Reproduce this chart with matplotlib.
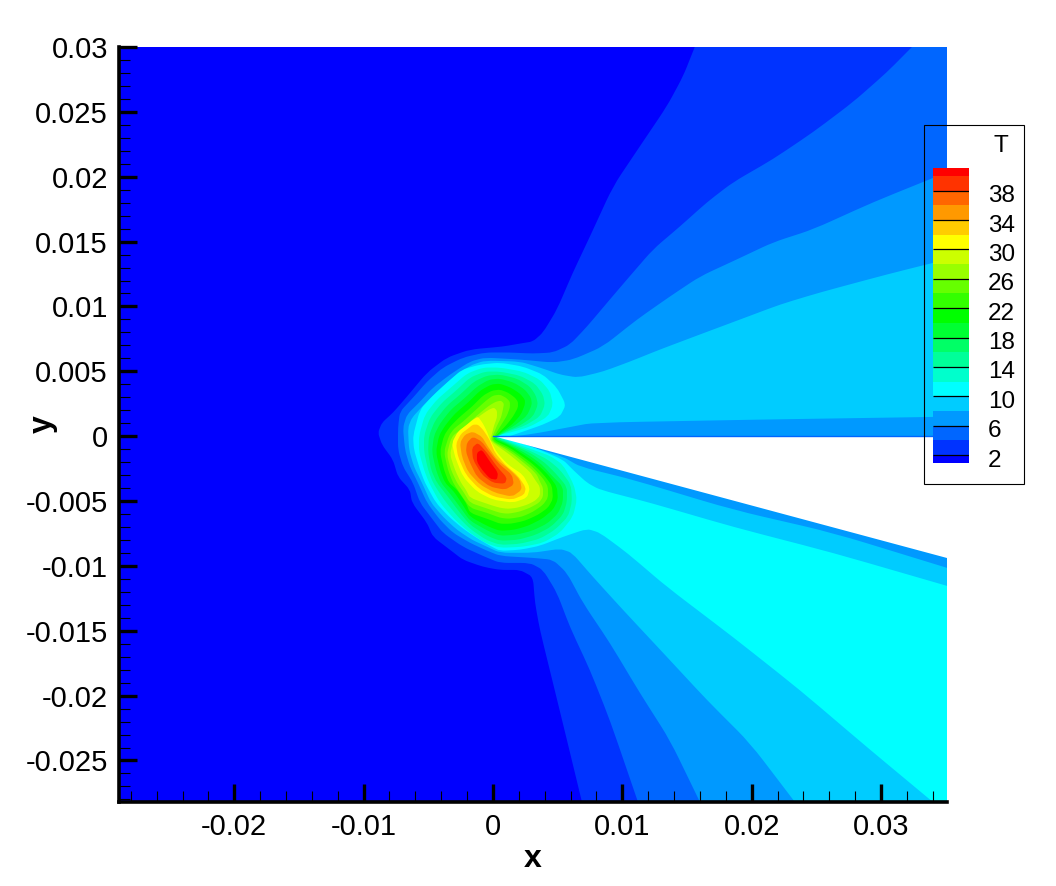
import matplotlib
matplotlib.use("Agg")
import numpy as np
import matplotlib.pyplot as plt
from matplotlib.patches import PathPatch, Rectangle
from matplotlib.path import Path

plt.rcParams["font.family"] = ["Liberation Sans", "DejaVu Sans"]
plt.rcParams["axes.unicode_minus"] = False

# contour outlines, in units of 0.001
t2_x = [15.6, 14.7, 13.45, 11.36, 9.28, 7.5, 6.18, 4.95, 3.87, 3.09, 2.09, .77, -1.78, -3.56, -5.1, -6.65, -7.73, -8.58, -8.89, -8.58, -7.73, -7.34, -6.42, -6.26, -5.1, -4.64, -3.32, -2.32, -.77, .54, 2.09, 3.09, 3.25, 3.63, 4.64, 5.72, 6.88, 35.1, 35.1]
t2_y = [30, 27.75, 25.44, 22.35, 19.26, 15.4, 12.62, 9.77, 7.99, 7.3, 7.14, 6.91, 6.68, 6.06, 4.9, 3.05, 1.81, 1.04, .27, -.66, -1.81, -3.13, -4.13, -5.13, -6.68, -7.76, -8.76, -9.53, -10.07, -10.31, -10.31, -10.85, -12.85, -14.94, -19.03, -23.43, -28.2, -28.2, 30]

t4_x = [32.39, 30.46, 27.83, 24.74, 21.64, 18.55, 16.54, 14.46, 12.37, 10.36, 9.04, 7.27, 5.95, 4.64, 3.09, 1.31, -.62, -2.32, -3.87, -5.1, -6.18, -7.19, -7.34, -7.34, -6.96, -6.18, -5.64, -4.64, -3.87, -2.32, -.62, .54, 2.86, 3.87, 4.95, 5.95, 7.5, 9.04, 11.21, 35.1, 35.1]
t4_y = [30, 28.06, 25.75, 23.43, 21.35, 19.57, 18.03, 16.17, 14.4, 12.08, 10.54, 8.45, 7.06, 6.45, 6.37, 6.45, 6.45, 6.06, 5.29, 4.21, 2.97, 1.89, .66, -1.04, -2.35, -3.59, -5.13, -6.45, -7.45, -8.53, -9.3, -9.77, -9.77, -10.31, -12.08, -14.71, -18.03, -21.89, -28.2, -28.2, 30]

t6_x = [35.1, 29.37, 24.74, 21.64, 18.86, 16.0, 13.68, 11.13, 8.5, 6.18, 4.64, 2.09, -.62, -1.78, -3.32, -4.64, -5.64, -6.65, -6.96, -6.8, -6.42, -5.8, -5.1, -4.1, -3.09, -1.78, -.62, .54, 3.09, 4.64, 5.72, 6.96, 9.04, 11.36, 13.68, 16.0, 35.1]
t6_y = [20.34, 18.03, 15.94, 14.94, 13.63, 12.31, 10.77, 8.99, 6.91, 5.91, 5.67, 5.91, 6.06, 5.75, 4.75, 3.74, 2.66, 1.66, .66, -1.04, -2.35, -3.59, -5.13, -6.45, -7.45, -8.22, -8.76, -9.23, -9.38, -9.53, -10.54, -12.85, -15.94, -19.8, -23.43, -28.2, -28.2]

t8_x = [35.1, 30.46, 25.28, 22.19, 19.09, 16, 12.91, 10.59, 8.5, 6.57, 5.18, 3.63, 2.09, -.62, -1.78, -3.17, -4.33, -5.33, -6.26, -6.57, -6.49, -6.11, -5.49, -4.79, -3.79, -2.78, -1.62, -.62, .54, 3.09, 5.18, 6.11, 7.73, 10.05, 13.45, 16.54, 19.87, 23.34, 35.1, 35.1, 26.28, 18.55, 10.82, 6.73, 5.41, 2.86, .54, 2.09, 3.63, 5.72, 7.73, 20.1, 35.1]
t8_y = [13.63, 12.47, 11.08, 10.15, 8.99, 7.84, 6.68, 5.75, 4.98, 4.52, 4.75, 5.29, 5.75, 5.83, 5.44, 4.44, 3.44, 2.43, 1.43, .66, -1.04, -2.35, -3.59, -5.13, -6.29, -7.22, -7.99, -8.45, -8.99, -8.99, -8.68, -8.99, -10.85, -13.39, -17.02, -20.34, -23.66, -28.2, -28.2, -10.15, -7.45, -5.67, -3.36, -2.35, -1.58, -.81, -.12, .04, .27, .66, 1.04, 1.27, 1.5]

t10_x = [35.1, 26.28, 18.55, 12.14, 8.27, 7.27, 6.18, 5.41, 3.25, .93, 2.09, 3.87, 5.18, 5.64, 4.95, 3.87, 2.32, .54, -1, -2.4, -3.56, -4.72, -5.64, -6.18, -6.11, -5.64, -5.26, -4.41, -3.4, -2.4, -1.39, -.23, .54, 2.09, 3.63, 5.41, 7.27, 8.27, 10.36, 13.45, 18.55, 23.73, 28.91, 34.01, 35.1]
t10_y = [-11.54, -8.99, -6.99, -5.13, -4.13, -3.59, -2.59, -1.81, -.89, -.12, .27, .89, 1.51, 2.43, 3.74, 4.75, 5.37, 5.67, 5.52, 5.13, 4.13, 3.05, 2.05, .04, -1.04, -2.59, -3.59, -5.13, -6.21, -7.06, -7.76, -8.45, -8.84, -8.76, -8.45, -7.76, -7.14, -7.45, -8.99, -11.62, -15.48, -19.57, -23.97, -28.2, -28.2]

t12_x = [.23, 1.31, 2.86, 4.41, 5.41, 6.26, 6.49, 6.18, 5.18, 3.87, 2.32, .54, -.62, -1.78, -2.94, -4.1, -4.95, -5.33, -5.72, -5.72, -5.26, -4.33, -3.17, -2.01, -.77, .54, 2.32, 3.63, 4.41, 4.64, 4.25, 2.86, 1.31]
t12_y = [.04, -.42, -.97, -1.51, -2.2, -3.74, -4.9, -6.21, -7.45, -8.22, -8.53, -8.61, -8.22, -7.45, -6.45, -5.13, -3.59, -2.59, -1.2, .04, 1.66, 2.82, 3.82, 4.83, 5.29, 5.29, 4.98, 4.36, 3.44, 2.43, 1.51, .73, .27]

t14_x = [.23, 1.31, 2.86, 4.25, 5.18, 6.03, 6.11, 5.8, 4.79, 3.63, 2.09, .54, -.54, -1.78, -2.71, -3.79, -4.64, -5.02, -5.33, -5.33, -4.87, -3.94, -2.86, -1.78, -.62, .54, 2.09, 3.25, 3.87, 4.02, 3.63, 2.47, 1.16]
t14_y = [-.04, -.5, -1.12, -1.81, -2.59, -3.74, -5.06, -6.21, -7.22, -7.91, -8.3, -8.38, -7.99, -7.14, -6.21, -4.9, -3.59, -2.59, -1.2, .04, 1.43, 2.59, 3.51, 4.52, 4.98, 4.98, 4.67, 4.05, 3.2, 2.43, 1.51, .81, .35]

t16_x = [.15, 1.31, 2.86, 4.02, 4.87, 5.72, 5.72, 5.41, 4.48, 3.32, 1.93, .54, -.46, -1.78, -2.55, -3.48, -4.33, -4.79, -5.02, -4.95, -4.48, -3.56, -2.55, -1.47, -.46, .54, 1.86, 2.86, 3.32, 3.48, 3.09, 2.09, 1.0]
t16_y = [-.12, -.58, -1.27, -2.05, -2.89, -3.9, -5.06, -6.06, -6.99, -7.6, -7.99, -8.07, -7.68, -6.83, -5.91, -4.67, -3.59, -2.59, -1.2, .04, 1.2, 2.35, 3.2, 4.21, 4.67, 4.75, 4.44, 3.82, 3.13, 2.43, 1.51, .81, .35]

t18_x = [.08, 1.31, 2.86, 3.79, 4.48, 5.41, 5.41, 5.02, 4.17, 3.01, 1.78, .54, -.39, -1.78, -2.4, -3.25, -4.02, -4.41, -4.72, -4.56, -4.1, -3.25, -2.24, -1.24, -.31, .54, 1.62, 2.47, 2.94, 3.01, 2.63, 1.78, .85]
t18_y = [-.12, -.66, -1.51, -2.2, -2.97, -3.9, -5.06, -5.98, -6.75, -7.3, -7.6, -7.68, -7.3, -6.52, -5.67, -4.52, -3.59, -2.59, -1.2, .04, .97, 2.05, 2.89, 3.82, 4.36, 4.44, 4.13, 3.59, 2.97, 2.43, 1.58, .89, .35]

t20_x = [0, 1.31, 2.86, 3.63, 4.33, 4.95, 5.02, 4.64, 3.79, 2.71, 1.62, .54, -.31, -1.78, -2.24, -3.01, -3.71, -4.1, -4.41, -4.17, -3.71, -2.94, -1.93, -1.0, -.15, .54, 1.39, 2.09, 2.47, 2.47, 2.16, 1.47, .7]
t20_y = [-.19, -.73, -1.74, -2.35, -3.05, -3.9, -4.9, -5.67, -6.37, -6.91, -7.22, -7.3, -6.99, -6.21, -5.44, -4.28, -3.59, -2.59, -1.2, .04, .81, 1.74, 2.59, 3.51, 3.98, 4.05, 3.74, 3.28, 2.82, 2.43, 1.66, .89, .35]

t22_x = [0, 1.31, 2.86, 3.56, 4.1, 4.56, 4.64, 4.25, 3.48, 2.47, 1.39, .54, -.23, -1.78, -2.09, -2.78, -3.4, -3.79, -4.1, -3.79, -3.32, -2.63, -1.62, -.77, -.08, .54, 1.16, 1.7, 1.93, 1.93, 1.55, 1.0, .46]
t22_y = [-.27, -.89, -1.97, -2.59, -3.2, -3.82, -4.83, -5.52, -6.06, -6.52, -6.75, -6.75, -6.45, -5.91, -5.13, -4.13, -3.59, -2.59, -1.2, .04, .73, 1.43, 2.28, 3.13, 3.51, 3.59, 3.36, 2.97, 2.66, 2.2, 1.51, .81, .27]

t24_x = [-.08, 1.31, 2.86, 3.48, 3.94, 4.25, 4.25, 3.87, 3.09, 2.24, 1.24, .54, -.46, -1.78, -2.47, -3.09, -3.48, -3.79, -3.4, -3.01, -2.32, -1.39, -.54, 0, .54, 1.0, 1.31, 1.31, 1.08, .7, .31]
t24_y = [-.35, -1.04, -2.2, -2.82, -3.36, -3.9, -4.75, -5.29, -5.83, -6.21, -6.37, -6.29, -5.91, -5.52, -4.52, -3.59, -2.59, -1.2, .04, .58, 1.12, 1.97, 2.74, 3.13, 3.2, 2.97, 2.66, 2.2, 1.58, .97, .35]

t26_x = [-.15, 1.31, 2.86, 3.4, 3.63, 3.87, 3.87, 3.56, 2.86, 2.01, 1.16, .54, -.39, -1.78, -2.24, -2.78, -3.25, -3.56, -3.32, -3.09, -2.71, -2.01, -1.16, -.31, .23, .62, .85, .77, .62, .31, .08]
t26_y = [-.35, -1.2, -2.43, -2.97, -3.51, -3.98, -4.67, -5.13, -5.52, -5.83, -5.98, -5.91, -5.6, -5.13, -4.36, -3.59, -2.59, -1.43, -.42, .04, .35, .89, 1.66, 2.35, 2.66, 2.74, 2.51, 2.05, 1.43, .81, .27]

t28_x = [-.23, 1.31, 2.86, 3.25, 3.63, 3.63, 3.25, 2.63, 1.86, 1.16, .54, -.23, -1.78, -2.09, -2.47, -2.94, -3.32, -3.09, -2.78, -2.4, -1.78, -1.0, -.31, .08, .31, .31, .08, -.08]
t28_y = [-.35, -1.43, -2.74, -3.36, -3.9, -4.59, -4.98, -5.29, -5.52, -5.6, -5.52, -5.29, -4.75, -4.13, -3.59, -2.59, -1.43, -.42, .04, .42, .97, 1.58, 2.05, 2.2, 1.97, 1.43, .81, .19]

t30_x = [-.23, .31, 1.16, 2.32, 2.86, 2.63, 1.55, 0, -1.24, -2.32, -2.94, -3.17, -2.71, -2.01, -1.55, -1.16, -.77, -.46]
t30_y = [-.27, -1.27, -2.2, -2.97, -3.98, -4.75, -5.13, -4.9, -4.28, -3.13, -1.58, -.5, .35, .89, 1.27, 1.51, .97, .35]

t32_x = [-.23, .15, .93, 1.93, 2.55, 2.4, 1.47, .08, -1.08, -2.09, -2.71, -2.86, -2.47, -1.93, -1.55, -1.16, -.77, -.46]
t32_y = [-.35, -1.27, -2.2, -3.05, -3.98, -4.52, -4.9, -4.67, -4.05, -2.97, -1.58, -.58, .19, .58, .89, .89, .5, .04]

t34_x = [-.39, .31, 1.31, 2.09, 2.24, 1.47, .15, -1.0, -1.93, -2.4, -2.55, -2.16, -1.55, -.85]
t34_y = [-.81, -1.81, -2.59, -3.36, -4.13, -4.67, -4.36, -3.74, -2.74, -1.58, -.5, .12, .35, -.04]

t36_x = [-.23, .54, 1.47, 1.62, .93, -.23, -1.24, -1.78, -2.09, -2.01, -1.55, -.85]
t36_y = [-1.27, -2.2, -2.97, -3.74, -4.13, -3.9, -3.13, -2.05, -1.2, -.5, -.04, -.42]

t38_x = [-1.62, -1.16, -.46, .31, 1.08, .93, 0, -.85, -1.55]
t38_y = [-.89, -.5, -1.27, -2.35, -3.2, -3.67, -3.59, -2.97, -1.81]

t40_x = [-1.24, -.85, -.23, .39, .31, -.23, -.85, -1.24]
t40_y = [-1.27, -1.04, -1.97, -2.82, -3.36, -3.28, -2.59, -1.97]

# white wedge where there is no solution
wedge_x = [0, 35.1, 35.1]
wedge_y = [0, 0, -9.38]

levels = [2, 4, 6, 8, 10, 12, 14, 16, 18, 20, 22, 24, 26, 28, 30, 32, 34, 36, 38, 40]
band_colors = ["#0033ff", "#0066ff", "#0099ff", "#00ccff", "#00ffff",
               "#00ffcc", "#00ff99", "#00ff66", "#00ff33", "#00ff00",
               "#33ff00", "#66ff00", "#99ff00", "#ccff00", "#ffff00",
               "#ffcc00", "#ff9900", "#ff6600", "#ff3300", "#ff0000"]
low_color = "#0000ff"
outlines = [(t2_x, t2_y), (t4_x, t4_y), (t6_x, t6_y), (t8_x, t8_y), (t10_x, t10_y),
            (t12_x, t12_y), (t14_x, t14_y), (t16_x, t16_y), (t18_x, t18_y), (t20_x, t20_y),
            (t22_x, t22_y), (t24_x, t24_y), (t26_x, t26_y), (t28_x, t28_y), (t30_x, t30_y),
            (t32_x, t32_y), (t34_x, t34_y), (t36_x, t36_y), (t38_x, t38_y), (t40_x, t40_y)]

x_ticks = [-0.02, -0.01, 0, 0.01, 0.02, 0.03]
x_tick_labels = ["-0.02", "-0.01", "0", "0.01", "0.02", "0.03"]
y_ticks = [-0.025, -0.02, -0.015, -0.01, -0.005, 0, 0.005, 0.01, 0.015, 0.02, 0.025, 0.03]
y_tick_labels = ["-0.025", "-0.02", "-0.015", "-0.01", "-0.005", "0", "0.005", "0.01", "0.015", "0.02", "0.025", "0.03"]
legend_ticks = [2, 6, 10, 14, 18, 22, 26, 30, 34, 38]


def outline_path(xs, ys, cut=0.3):
    # rounds each corner a little, points on the plot border stay sharp
    pts = np.column_stack([xs, ys]) * 1e-3
    n = len(pts)
    start = pts[0] + cut * (pts[1] - pts[0])
    verts = [start]
    codes = [Path.MOVETO]
    for k in range(1, n + 1):
        p = pts[k % n]
        before = p + cut * (pts[k - 1] - p)
        after = p + cut * (pts[(k + 1) % n] - p)
        on_border = p[0] >= 0.0351 or p[1] <= -0.0282 or p[1] >= 0.03
        verts += [before, p, after]
        if on_border:
            codes += [Path.LINETO, Path.LINETO, Path.LINETO]
        else:
            codes += [Path.LINETO, Path.CURVE3, Path.CURVE3]
    return Path(verts, codes)


W, H = 1056, 886
fig = plt.figure(figsize=(W / 100, H / 100), dpi=100)
ax = fig.add_axes([119 / W, 1 - 802 / H, 828 / W, 755 / H])
ax.set_xlim(-0.02891, 0.0351)
ax.set_ylim(-0.0282, 0.03)
ax.set_facecolor(low_color)

# painted from the lowest level up, each one covers the region above that level
for (px, py), c in zip(outlines, band_colors):
    ax.add_patch(PathPatch(outline_path(px, py), facecolor=c, edgecolor="none", lw=0))
unit = 1e-3
ax.fill(np.array(wedge_x) * unit, np.array(wedge_y) * unit, color="white", lw=0)
ax.plot([0, 0.0351], [0, 0], color="#0066ff", lw=1)

for s in ["top", "right"]:
    ax.spines[s].set_visible(False)
for s in ["left", "bottom"]:
    ax.spines[s].set_linewidth(2.6)

ax.set_xticks(x_ticks)
ax.set_xticklabels(x_tick_labels)
ax.set_yticks(y_ticks)
ax.set_yticklabels(y_tick_labels)
ax.set_xticks(np.arange(-28, 35, 2) * unit, minor=True)
ax.set_yticks(np.arange(-28, 30, 1) * unit, minor=True)
ax.tick_params(which="major", direction="in", length=13, width=2.4, labelsize=21, pad=8)
ax.tick_params(which="minor", direction="in", length=8, width=0.8)
ax.set_xlabel("x", fontsize=23, fontweight="bold", labelpad=2)
ax.set_ylabel("y", fontsize=23, fontweight="bold")
ax.yaxis.set_label_coords((58 - 119) / 828, 0.5)

# legend box, no fill so the plot shows through
fig.add_artist(Rectangle((924 / W, 1 - 484 / H), 100 / W, 359 / H, transform=fig.transFigure,
                         facecolor="none", edgecolor="black", lw=0.8, zorder=5))

cb = fig.add_axes([933 / W, 1 - 463.3 / H, 36 / W, 295 / H], zorder=6)
cb.set_xlim(0, 1)
cb.set_ylim(0.87, 41.05)
edges = [0.87] + levels + [41.05]
cb.bar(0.5, edges[1] - edges[0], bottom=edges[0], width=1, color=low_color)
for i, c in enumerate(band_colors):
    cb.bar(0.5, edges[i + 2] - edges[i + 1], bottom=edges[i + 1], width=1, color=c)
cb.hlines(legend_ticks, 0, 1, color="black", lw=0.9)
cb.axis("off")
for v in legend_ticks:
    cb.annotate(str(v), (1, v), xycoords=("axes fraction", "data"), xytext=(13.7, -4),
                textcoords="offset points", va="center", ha="left", fontsize=17.5)
fig.text(1001 / W, 1 - 146 / H, "T", fontsize=17.5, ha="center", va="center", zorder=7)

fig.savefig("out.png", dpi=100)
